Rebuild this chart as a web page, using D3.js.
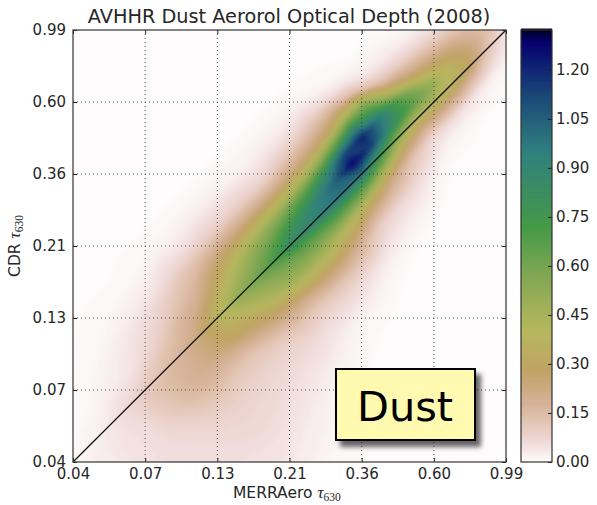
<!DOCTYPE html>
<html>
<head>
<meta charset="utf-8">
<script src="https://cdn.jsdelivr.net/npm/d3@7"></script>
<style>
  html, body { margin: 0; padding: 0; background: #fff; }
  svg { display: block; font-family: "DejaVu Sans", sans-serif; fill: #262626; }
  .tick text { font-size: 15px; fill: #262626; font-family: "DejaVu Sans", sans-serif; }
</style>
</head>
<body>
<svg id="chart" width="597" height="505"></svg>
<script>
const titleText = "AVHHR Dust Aerorol Optical Depth (2008)";
const tauTicks = ["0.04", "0.07", "0.13", "0.21", "0.36", "0.60", "0.99"];
const colorbarTicks = [0, 0.15, 0.30, 0.45, 0.60, 0.75, 0.90, 1.05, 1.20];
const colorbarMax = 1.322;

// gist_earth_r, position along the bar (0 = low) and colour
const paletteStops = [0, 0.0353, 0.0588, 0.1059, 0.1333, 0.1843, 0.2118, 0.3020, 0.4510, 0.5412, 0.7176, 0.8353, 0.8902, 0.9725, 0.9961, 1];
const paletteColors = ["#fdfbfb", "#f3e1e0", "#ecd3ce", "#dfbfa9", "#d7b299", "#c8a778", "#c1a365", "#b7b75e", "#78a552", "#459a46", "#30807f", "#1c4d78", "#133076", "#05006e", "#00002b", "#000000"];

// density on a grid turned along the one to one line:
// rows run along the diagonal from the 0.04 corner up, columns cross it from upper left to lower right
const density = [
  [0,0,0,0,0,0,0,0,0,.005,.01,.015,.02,.025,.03,.03,.03,.03,.03,.03,.02,.02,.015,.01,.01,.005,0],
  [0,0,0,0,0,0,0,0,.01,.015,.02,.03,.03,.035,.04,.04,.04,.04,.035,.03,.03,.02,.02,.01,.01,.005,0],
  [0,0,0,0,0,0,.005,.01,.015,.025,.04,.045,.05,.05,.05,.05,.05,.045,.04,.035,.03,.025,.02,.015,.01,.005,0],
  [0,0,0,0,.005,.01,.012,.02,.03,.05,.07,.07,.06,.06,.06,.06,.06,.06,.055,.05,.045,.04,.03,.02,.015,.01,.005],
  [0,0,.003,.006,.01,.015,.025,.035,.04,.07,.11,.12,.11,.10,.08,.07,.065,.06,.06,.055,.05,.045,.04,.03,.02,.015,.01],
  [0,.003,.005,.007,.015,.025,.04,.055,.07,.11,.14,.16,.16,.15,.12,.095,.08,.07,.065,.06,.05,.045,.04,.03,.02,.015,.01],
  [0,.003,.005,.01,.02,.035,.06,.08,.11,.15,.18,.19,.20,.18,.14,.11,.09,.08,.07,.065,.055,.05,.04,.03,.02,.015,.01],
  [0,.005,.01,.012,.03,.05,.09,.12,.17,.20,.24,.25,.24,.18,.13,.10,.085,.075,.07,.06,.05,.04,.03,.025,.015,.01,.01],
  [0,.005,.012,.02,.05,.08,.13,.16,.21,.30,.38,.35,.30,.20,.13,.10,.08,.07,.06,.05,.04,.03,.025,.02,.012,.01,.005],
  [0,.005,.012,.025,.045,.09,.16,.24,.32,.42,.50,.43,.33,.25,.16,.10,.08,.07,.05,.04,.03,.02,.015,.01,.01,.005,0],
  [0,.005,.015,.03,.06,.10,.19,.30,.42,.50,.60,.50,.42,.30,.20,.13,.09,.06,.05,.03,.02,.015,.01,.005,0,0,0],
  [0,.005,.015,.03,.06,.10,.20,.34,.50,.60,.70,.57,.50,.35,.20,.12,.08,.05,.03,.02,.01,.005,0,0,0,0,0],
  [0,.005,.015,.025,.06,.10,.20,.37,.55,.72,.85,.64,.52,.38,.24,.13,.08,.05,.02,.01,.005,0,0,0,0,0,0],
  [0,.005,.015,.025,.05,.09,.20,.38,.62,.82,.90,.66,.50,.36,.23,.13,.07,.04,.02,.01,0,0,0,0,0,0,0],
  [0,.005,.015,.03,.06,.12,.22,.42,.70,.92,.97,.70,.46,.30,.18,.11,.05,.02,.01,0,0,0,0,0,0,0,0],
  [0,.005,.015,.03,.07,.14,.25,.50,.86,1.05,1.00,.68,.40,.21,.10,.06,.03,.01,0,0,0,0,0,0,0,0,0],
  [0,.005,.015,.04,.09,.17,.30,.66,1.12,1.30,1.00,.62,.30,.16,.07,.04,.02,.005,0,0,0,0,0,0,0,0,0],
  [0,.003,.008,.02,.07,.21,.44,.85,1.22,1.15,.80,.45,.20,.12,.06,.03,.01,0,0,0,0,0,0,0,0,0,0],
  [0,0,.005,.01,.04,.13,.48,.72,.98,.90,.55,.28,.12,.07,.03,.01,0,0,0,0,0,0,0,0,0,0,0],
  [0,0,0,.005,.02,.05,.14,.38,.70,.72,.42,.20,.07,.03,.01,0,0,0,0,0,0,0,0,0,0,0,0],
  [0,0,0,.01,.02,.04,.10,.22,.43,.58,.45,.22,.07,.02,.01,0,0,0,0,0,0,0,0,0,0,0,0],
  [0,0,0,0,.01,.03,.08,.17,.30,.42,.38,.20,.05,.02,0,0,0,0,0,0,0,0,0,0,0,0,0],
  [0,0,0,0,0,.03,.06,.13,.23,.30,.30,.13,.03,.01,0,0,0,0,0,0,0,0,0,0,0,0,0],
  [0,0,0,0,0,.02,.06,.10,.16,.18,.13,.06,.015,0,0,0,0,0,0,0,0,0,0,0,0,0,0],
  [0,0,0,0,0,0,.03,.06,.09,.10,.05,.02,0,0,0,0,0,0,0,0,0,0,0,0,0,0,0]
];

const plot = {left: 73, right: 506, top: 30, bottom: 462};
const bar = {left: 521, right: 552};

const svg = d3.select("#chart");
const defs = svg.append("defs");

const x = d3.scalePoint().domain(tauTicks).range([plot.left, plot.right]);
const y = d3.scalePoint().domain(tauTicks).range([plot.bottom, plot.top]);
const barY = d3.scaleLinear().domain([0, colorbarMax]).range([plot.bottom, plot.top]);

let palette = d3.scaleLinear().domain(paletteStops).range(paletteColors).interpolate(d3.interpolateRgb);
let color = v => palette(v / colorbarMax);

// Heat field, filled contours stacked from low to high
defs.append("clipPath").attr("id", "plotClip").append("rect")
    .attr("x", plot.left).attr("y", plot.top)
    .attr("width", plot.right - plot.left).attr("height", plot.bottom - plot.top);
let blur = defs.append("filter").attr("id", "soft")
    .attr("x", "-5%").attr("y", "-5%").attr("width", "110%").attr("height", "110%");
blur.append("feGaussianBlur").attr("stdDeviation", 2);

let rows = density.length, cols = density[0].length;
// 18 px up the diagonal per row, 9 px each way across it per column
let along = d3.scaleLinear().domain([0.5, rows - 0.5]).range([0, plot.right - plot.left]);
let across = d3.scaleLinear().domain([0.5, cols - 0.5]).range([-90, 144]);
let path = d3.geoPath(d3.geoTransform({
    point(px, py) {
        let u = along(py), w = across(px);
        this.stream.point(plot.left + u + w, plot.bottom - u + w);
    }
}));
let thresholds = d3.range(0.005, colorbarMax, 0.01);
let contours = d3.contours().size([cols, rows]).smooth(true).thresholds(thresholds)(density.flat());

let heat = svg.append("g").attr("clip-path", "url(#plotClip)");
heat.append("rect")
    .attr("x", plot.left).attr("y", plot.top)
    .attr("width", plot.right - plot.left).attr("height", plot.bottom - plot.top)
    .attr("fill", color(0));
heat.append("g").attr("filter", "url(#soft)")
    .selectAll("path").data(contours).enter().append("path")
    .attr("d", path)
    .attr("fill", d => color(d.value));

// Dotted grid
let grid = svg.append("g").attr("stroke", "#222").attr("stroke-width", 1).attr("opacity", 0.75);
grid.selectAll(".gx").data(tauTicks.slice(1, -1)).enter().append("line")
    .attr("x1", x).attr("x2", x).attr("y1", plot.top).attr("y2", plot.bottom)
    .attr("stroke-dasharray", "1,3");
grid.selectAll(".gy").data(tauTicks.slice(1, -1)).enter().append("line")
    .attr("y1", y).attr("y2", y).attr("x1", plot.left).attr("x2", plot.right)
    .attr("stroke-dasharray", "1,3");

// One to one line
svg.append("line")
    .attr("x1", x(tauTicks[0])).attr("y1", y(tauTicks[0]))
    .attr("x2", x(tauTicks[6])).attr("y2", y(tauTicks[6]))
    .attr("stroke", "#111").attr("stroke-width", 1.3);

// Axes, ticks point inwards on all four sides
let styleAxis = g => {
    g.selectAll(".domain").remove();
    g.selectAll(".tick line").attr("stroke", "#222");
};
svg.append("g").attr("transform", `translate(0,${plot.bottom})`)
    .call(d3.axisBottom(x).tickSize(-4).tickPadding(6)).call(styleAxis);
svg.append("g").attr("transform", `translate(${plot.left},0)`)
    .call(d3.axisLeft(y).tickSize(-4).tickPadding(7)).call(styleAxis);
svg.append("g").attr("transform", `translate(0,${plot.top})`)
    .call(d3.axisTop(x).tickSize(-4).tickFormat("")).call(styleAxis);
svg.append("g").attr("transform", `translate(${plot.right},0)`)
    .call(d3.axisRight(y).tickSize(-4).tickFormat("")).call(styleAxis);

svg.append("rect")
    .attr("x", plot.left).attr("y", plot.top)
    .attr("width", plot.right - plot.left).attr("height", plot.bottom - plot.top)
    .attr("fill", "none").attr("stroke", "#333").attr("stroke-width", 1.2);

// Title and labels
svg.append("text")
    .attr("x", (plot.left + plot.right) / 2 - 0.5).attr("y", 22.5)
    .attr("text-anchor", "middle").attr("font-size", 19.3)
    .text(titleText);

let tauLabel = (sel, name) => {
    sel.append("tspan").text(name + " ");
    sel.append("tspan").attr("font-family", "Liberation Serif").attr("font-style", "italic")
        .attr("font-size", 17).text("τ");
    sel.append("tspan").attr("font-family", "Liberation Serif").attr("font-size", 11.5)
        .attr("dy", 3).text("630");
};
svg.append("text")
    .attr("x", 233).attr("y", 498)
    .attr("font-size", 15.5)
    .call(tauLabel, "MERRAero");
svg.append("text")
    .attr("transform", `translate(20,${(plot.top + plot.bottom) / 2}) rotate(-90)`)
    .attr("text-anchor", "middle").attr("font-size", 15.5)
    .call(tauLabel, "CDR");

// Colour bar
let barSteps = d3.range(0, colorbarMax, 0.005);
svg.append("g").selectAll("rect").data(barSteps).enter().append("rect")
    .attr("x", bar.left).attr("width", bar.right - bar.left)
    .attr("y", d => barY(d + 0.005) - 0.5)
    .attr("height", d => barY(d) - barY(d + 0.005) + 1)
    .attr("fill", color);
svg.append("g").attr("transform", `translate(${bar.right},0)`)
    .call(d3.axisRight(barY).tickValues(colorbarTicks).tickFormat(d3.format(".2f")).tickSize(-4).tickPadding(4))
    .call(styleAxis);
svg.append("rect")
    .attr("x", bar.left).attr("y", plot.top)
    .attr("width", bar.right - bar.left).attr("height", plot.bottom - plot.top)
    .attr("fill", "none").attr("stroke", "#333").attr("stroke-width", 1.2);

// Dust tag
let shadow = defs.append("filter").attr("id", "tagShadow")
    .attr("x", "-10%").attr("y", "-15%").attr("width", "130%").attr("height", "140%");
shadow.append("feDropShadow").attr("dx", 5).attr("dy", 6).attr("stdDeviation", 2.5)
    .attr("flood-color", "#000").attr("flood-opacity", 0.6);
svg.append("rect")
    .attr("x", 336).attr("y", 369).attr("width", 139).attr("height", 71)
    .attr("fill", "#fffab0").attr("stroke", "#000").attr("stroke-width", 2)
    .attr("filter", "url(#tagShadow)");
svg.append("text")
    .attr("x", 405).attr("y", 421)
    .attr("text-anchor", "middle").attr("font-size", 41.5).attr("fill", "#000")
    .text("Dust");
</script>
</body>
</html>
